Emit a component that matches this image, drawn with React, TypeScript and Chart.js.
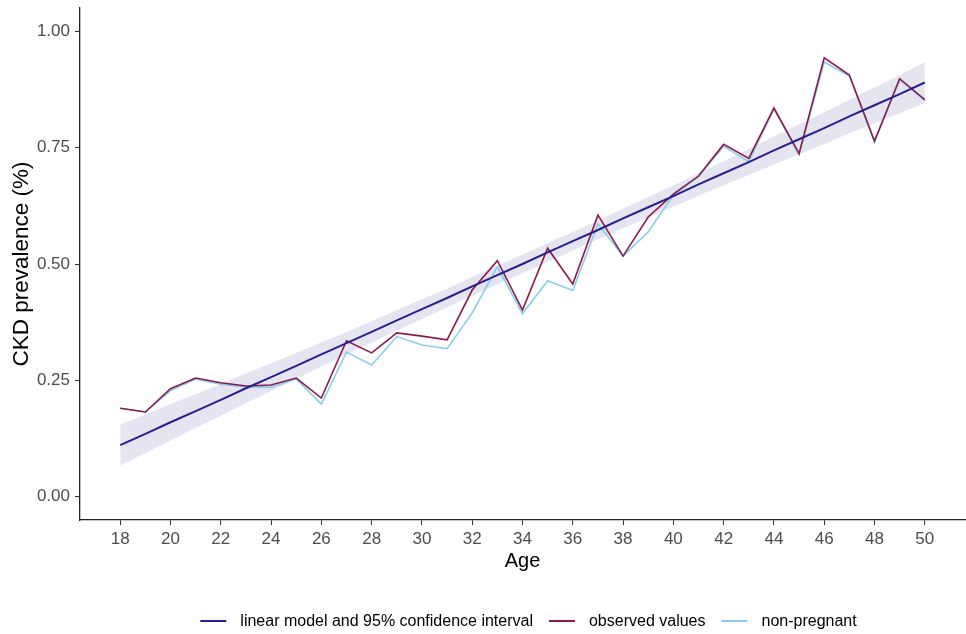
import React, { useEffect, useRef } from "react";
import { Chart, registerables } from "chart.js";

Chart.register(...registerables);

const ages = [18, 19, 20, 21, 22, 23, 24, 25, 26, 27, 28, 29, 30, 31, 32, 33, 34, 35, 36, 37, 38, 39, 40, 41, 42, 43, 44, 45, 46, 47, 48, 49, 50];

const observed = [0.190, 0.182, 0.232, 0.255, 0.245, 0.238, 0.240, 0.255, 0.212, 0.335, 0.309, 0.352, 0.345, 0.337, 0.444, 0.507, 0.401, 0.534, 0.457, 0.605, 0.517, 0.601, 0.650, 0.689, 0.757, 0.727, 0.835, 0.737, 0.943, 0.906, 0.764, 0.898, 0.853];

const nonPregnant = [0.190, 0.182, 0.228, 0.253, 0.242, 0.236, 0.235, 0.253, 0.199, 0.311, 0.283, 0.344, 0.326, 0.318, 0.395, 0.494, 0.393, 0.464, 0.443, 0.586, 0.517, 0.569, 0.648, 0.687, 0.753, 0.720, 0.833, 0.735, 0.934, 0.904, 0.762, 0.896, 0.851];

const fitted = [0.111, 0.135, 0.160, 0.184, 0.208, 0.233, 0.257, 0.281, 0.306, 0.330, 0.354, 0.379, 0.403, 0.427, 0.452, 0.476, 0.500, 0.525, 0.549, 0.573, 0.598, 0.622, 0.646, 0.671, 0.695, 0.719, 0.744, 0.768, 0.792, 0.817, 0.841, 0.865, 0.890];

const ciLower = [0.067, 0.094, 0.121, 0.148, 0.174, 0.201, 0.227, 0.253, 0.280, 0.306, 0.331, 0.357, 0.382, 0.407, 0.432, 0.456, 0.480, 0.505, 0.529, 0.553, 0.577, 0.600, 0.623, 0.647, 0.669, 0.691, 0.714, 0.736, 0.758, 0.781, 0.802, 0.824, 0.846];

const ciUpper = [0.155, 0.176, 0.199, 0.220, 0.242, 0.265, 0.287, 0.309, 0.332, 0.354, 0.377, 0.401, 0.424, 0.447, 0.472, 0.496, 0.520, 0.545, 0.569, 0.593, 0.619, 0.644, 0.669, 0.695, 0.721, 0.747, 0.774, 0.800, 0.826, 0.853, 0.880, 0.906, 0.934];

const xTicks = [18, 20, 22, 24, 26, 28, 30, 32, 34, 36, 38, 40, 42, 44, 46, 48, 50];
const yTicks = [0, 0.25, 0.5, 0.75, 1];

const seriesLabels = ["linear model and 95% confidence interval", "observed values", "non-pregnant"];
const seriesColors = ["#2a1d8e", "#8b1a4b", "#87ceeb"];
const bandColor = "rgba(42,29,142,0.12)";

const FONT = "'Liberation Sans', Arial, Helvetica, sans-serif";

const toPoints = (vals: number[]) => ages.map((a, i) => ({ x: a, y: vals[i] }));

const bottomLegend = {
  id: "bottomLegend",
  afterDraw(chart: any) {
    const ctx = chart.ctx as CanvasRenderingContext2D;
    ctx.save();
    ctx.font = `16px ${FONT}`;
    const lineW = 26;
    const gapText = 14;
    const gapItem = 16;
    const widths = seriesLabels.map((t) => ctx.measureText(t).width);
    const total =
      widths.reduce((a, b) => a + b, 0) +
      seriesLabels.length * (lineW + gapText) +
      (seriesLabels.length - 1) * gapItem;
    const { left, right } = chart.chartArea;
    let x = (left + right) / 2 + 6 - total / 2;
    const y = chart.height - 13;
    ctx.textBaseline = "middle";
    ctx.textAlign = "left";
    seriesLabels.forEach((label, i) => {
      ctx.strokeStyle = seriesColors[i];
      ctx.lineWidth = 2;
      ctx.beginPath();
      ctx.moveTo(x, y);
      ctx.lineTo(x + lineW, y);
      ctx.stroke();
      x += lineW + gapText;
      ctx.fillStyle = "#000000";
      ctx.fillText(label, x, y + 1);
      x += widths[i] + gapItem;
    });
    ctx.restore();
  },
};

export default function App() {
  const canvasRef = useRef<HTMLCanvasElement | null>(null);

  useEffect(() => {
    const canvas = canvasRef.current;
    if (!canvas) return;
    const chart = new Chart(canvas, {
      type: "line",
      data: {
        datasets: [
          {
            label: seriesLabels[0],
            data: toPoints(fitted),
            borderColor: seriesColors[0],
            borderWidth: 2,
            pointRadius: 0,
            fill: false,
            tension: 0,
          },
          {
            label: seriesLabels[1],
            data: toPoints(observed),
            borderColor: seriesColors[1],
            borderWidth: 1.6,
            pointRadius: 0,
            fill: false,
            tension: 0,
          },
          {
            label: seriesLabels[2],
            data: toPoints(nonPregnant),
            borderColor: seriesColors[2],
            borderWidth: 1.6,
            pointRadius: 0,
            fill: false,
            tension: 0,
          },
          {
            label: "ci lower",
            data: toPoints(ciLower),
            borderWidth: 0,
            borderColor: "rgba(0,0,0,0)",
            pointRadius: 0,
            fill: false,
          },
          {
            label: "ci upper",
            data: toPoints(ciUpper),
            borderWidth: 0,
            borderColor: "rgba(0,0,0,0)",
            backgroundColor: bandColor,
            pointRadius: 0,
            fill: "-1",
          },
        ],
      },
      options: {
        animation: false,
        responsive: false,
        devicePixelRatio: 1,
        layout: { padding: { top: 8, right: 1, left: 0, bottom: 0 } },
        plugins: {
          legend: { display: false },
          tooltip: { enabled: false },
        },
        scales: {
          x: {
            type: "linear",
            min: 16.4,
            max: 51.6,
            afterBuildTicks: (s: any) => {
              s.ticks = xTicks.map((v) => ({ value: v }));
            },
            afterFit: (s: any) => {
              s.height = 114;
              s.paddingLeft = 0;
              s.paddingRight = 0;
            },
            grid: {
              display: true,
              drawOnChartArea: false,
              drawTicks: true,
              tickLength: 5,
              color: "#333333",
              lineWidth: 1,
            },
            border: { display: true, color: "#222222", width: 1.3 },
            ticks: {
              color: "#4d4d4d",
              font: { family: FONT, size: 17 },
              padding: 4,
              maxRotation: 0,
              autoSkip: false,
              callback: (v: any) => String(v),
            },
            title: {
              display: true,
              text: "Age",
              color: "#000000",
              font: { family: FONT, size: 20 },
              padding: { top: 0, bottom: 61 },
            },
          },
          y: {
            type: "linear",
            min: -0.05,
            max: 1.05,
            afterBuildTicks: (s: any) => {
              s.ticks = yTicks.map((v) => ({ value: v }));
            },
            afterFit: (s: any) => {
              s.width = 80;
              s.paddingTop = 0;
              s.paddingBottom = 0;
            },
            grid: {
              display: true,
              drawOnChartArea: false,
              drawTicks: true,
              tickLength: 5,
              color: "#333333",
              lineWidth: 1,
            },
            border: { display: true, color: "#222222", width: 1.3 },
            ticks: {
              color: "#4d4d4d",
              font: { family: FONT, size: 17 },
              padding: 5,
              callback: (v: any) => Number(v).toFixed(2),
            },
            title: {
              display: true,
              text: "CKD prevalence (%)",
              color: "#000000",
              font: { family: FONT, size: 22.5 },
              padding: { top: 8.5, bottom: 0 },
            },
          },
        },
      },
      plugins: [bottomLegend],
    });
    return () => chart.destroy();
  }, []);

  return (
    <canvas
      ref={canvasRef}
      width={966}
      height={634}
      style={{ position: "absolute", left: 0, top: 0, width: 966, height: 634, display: "block" }}
    />
  );
}
